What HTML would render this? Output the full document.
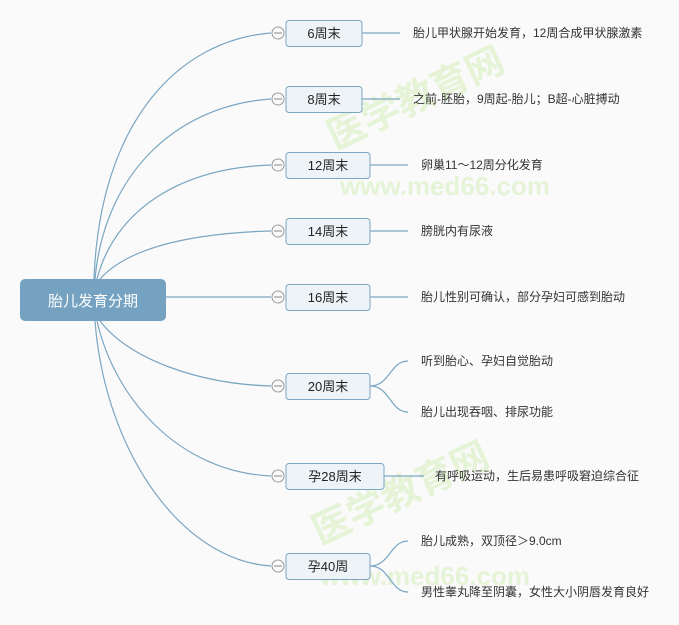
<!DOCTYPE html>
<html><head><meta charset="utf-8"><style>
body{margin:0;background:#fafafa;}
svg{display:block;font-family:"Liberation Sans","Noto Sans CJK SC",sans-serif;}
</style></head><body>
<svg width="679" height="625" viewBox="0 0 679 625">
<rect width="679" height="625" fill="#fafafa"/>
<g fill="#d8efc0" opacity="0.6" font-weight="bold">
<text x="335" y="150" font-size="38" transform="rotate(-25 335 150)">医学教育网</text>
<text x="340" y="195" font-size="26">www.med66.com</text>
<text x="320" y="545" font-size="38" transform="rotate(-25 320 545)">医学教育网</text>
<text x="320" y="585" font-size="26">www.med66.com</text>
</g>
<g fill="none" stroke="#7aa6c2" stroke-width="1.2">
<path d="M94 279 C100 120 180 40 271 33"/>
<path d="M95 279 C105 170 180 105 271 99"/>
<path d="M97 279 C115 210 180 168 271 165"/>
<path d="M100 279 C130 245 200 233 271 231"/>
<path d="M166 297 L271 297"/>
<path d="M100 321 C130 360 200 384 271 386"/>
<path d="M97 321 C115 400 180 472 271 476"/>
<path d="M95 321 C105 450 180 560 271 566"/>
<path d="M362 33 L400 33"/>
<path d="M362 99 L400 99"/>
<path d="M370 165 L408 165"/>
<path d="M370 231 L408 231"/>
<path d="M370 297 L408 297"/>
<path d="M370 386 C390 386 390 361 408 361"/>
<path d="M370 386 C390 386 390 412 408 412"/>
<path d="M384 476 L424 476"/>
<path d="M370 566 C390 566 390 541 408 541"/>
<path d="M370 566 C390 566 390 592 408 592"/>
</g>
<rect x="20" y="279" width="146" height="42" rx="5" fill="#74a2c0"/>
<text x="93" y="306" text-anchor="middle" font-size="15" fill="#fff">胎儿发育分期</text>
<g fill="#eef3f7" stroke="#7aa6c2" stroke-width="1">
<rect x="286" y="20.5" width="76" height="26" rx="3"/>
<rect x="286" y="86.5" width="76" height="26" rx="3"/>
<rect x="286" y="152.5" width="84" height="26" rx="3"/>
<rect x="286" y="218.5" width="84" height="26" rx="3"/>
<rect x="286" y="284.5" width="84" height="26" rx="3"/>
<rect x="286" y="373.5" width="84" height="26" rx="3"/>
<rect x="286" y="463.5" width="98" height="26" rx="3"/>
<rect x="286" y="553.5" width="84" height="26" rx="3"/>
</g>
<g fill="#fafafa" stroke="#999" stroke-width="1">
<circle cx="278" cy="33" r="6"/><circle cx="278" cy="99" r="6"/><circle cx="278" cy="165" r="6"/><circle cx="278" cy="231" r="6"/><circle cx="278" cy="297" r="6"/><circle cx="278" cy="386" r="6"/><circle cx="278" cy="476" r="6"/><circle cx="278" cy="566" r="6"/>
</g>
<g stroke="#888" stroke-width="1">
<path d="M274 33h8M274 99h8M274 165h8M274 231h8M274 297h8M274 386h8M274 476h8M274 566h8"/>
</g>
<g font-size="13" fill="#222" text-anchor="middle">
<text x="324" y="38">6周末</text>
<text x="324" y="104">8周末</text>
<text x="328" y="170">12周末</text>
<text x="328" y="236">14周末</text>
<text x="328" y="302">16周末</text>
<text x="328" y="391">20周末</text>
<text x="335" y="481">孕28周末</text>
<text x="328" y="571">孕40周</text>
</g>
<g font-size="12" fill="#333">
<text x="413" y="37">胎儿甲状腺开始发育，12周合成甲状腺激素</text>
<text x="413" y="103">之前-胚胎，9周起-胎儿；B超-心脏搏动</text>
<text x="421" y="169">卵巢11～12周分化发育</text>
<text x="421" y="235">膀胱内有尿液</text>
<text x="421" y="301">胎儿性别可确认，部分孕妇可感到胎动</text>
<text x="421" y="365">听到胎心、孕妇自觉胎动</text>
<text x="421" y="416">胎儿出现吞咽、排尿功能</text>
<text x="435" y="480">有呼吸运动，生后易患呼吸窘迫综合征</text>
<text x="421" y="545">胎儿成熟，双顶径＞9.0cm</text>
<text x="421" y="596">男性睾丸降至阴囊，女性大小阴唇发育良好</text>
</g>
</svg>
</body></html>
